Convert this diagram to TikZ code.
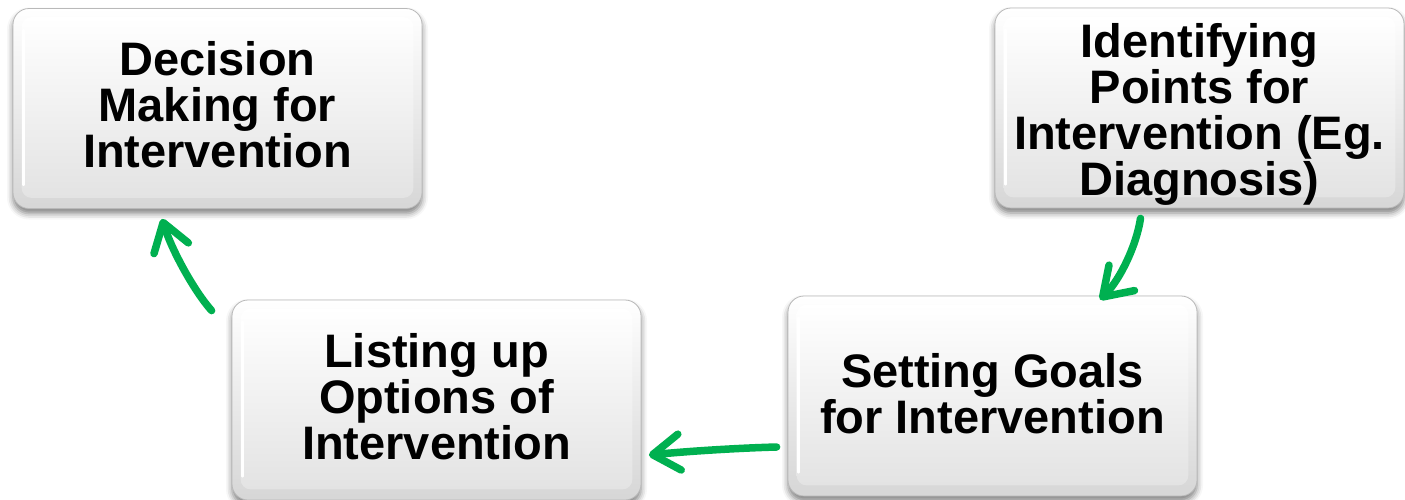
\documentclass[tikz,border=0pt]{standalone}
\usepackage{fontspec}
\setmainfont{Liberation Sans}
\usetikzlibrary{arrows.meta,shadows.blur}
\definecolor{arrgreen}{RGB}{0,176,80}
\begin{document}
\begin{tikzpicture}[x=1pt,y=-1pt,
  keyouter/.style={rectangle, rounded corners=16pt, minimum width=409pt, minimum height=200pt,
    inner sep=0pt, draw=gray!55, line width=0.8pt, top color=white, bottom color=gray!32,
    blur shadow={shadow xshift=0pt, shadow yshift=-5pt, shadow blur radius=6pt, shadow opacity=50}},
  keyinner/.style={rounded corners=10pt, top color=white, bottom color=gray!22},
  keyhilite/.style={draw=white, line width=2.5pt, line cap=round},
  keytext/.style={align=center, inner sep=0pt, text=black,
    font=\bfseries\fontsize{47}{46}\selectfont},
  flow/.style={draw=arrgreen, line width=7.5pt, line cap=round,
    -{Straight Barb[length=27pt,width=36pt,round]}}]
\useasboundingbox (0,0) rectangle (1405,499);

% key-cap panels
\foreach \nm/\cx/\cy in {dec/217.5/108.5, ident/1199.5/108, setg/992.5/396, list/436.5/400}{
  \node[keyouter] (\nm) at (\cx,\cy) {};
  \path[keyinner] ([shift={(9,9)}]\nm.north west) rectangle ([shift={(-9,-11)}]\nm.south east);
  \draw[keyhilite] ([shift={(11,22)}]\nm.north west) -- ([shift={(11,-24)}]\nm.south west);
}

% labels
\node[keytext] (dec-t) at ([yshift=4pt]dec) {Decision\\Making for\\Intervention};
\node[keytext] (ident-t) at ([yshift=-6pt]ident) {Identifying\\Points for\\Intervention (Eg.\\Diagnosis)};
\node[keytext] (setg-t) at ([yshift=2pt]setg) {Setting Goals\\for Intervention};
\node[keytext] (list-t) at ([yshift=3pt]list) {Listing up\\Options of\\Intervention};

% cycle arrows
\draw[flow] ([shift={(-59,10)}]ident.south) .. controls ([shift={(-63,37)}]ident.south)
  and ([shift={(127.5,-16)}]setg.north) .. ([shift={(107.5,4)}]setg.north);
\draw[flow] ([shift={(-11,51)}]setg.west) .. controls ([shift={(-48,52)}]setg.west)
  and ([shift={(49.5,51)}]list.east) .. ([shift={(7.5,55)}]list.east);
\draw[flow] ([shift={(-20,11)}]list.north west) .. controls ([shift={(-37,-8)}]list.north west)
  and ([shift={(-45.5,42)}]dec.south) .. ([shift={(-55.5,10)}]dec.south);
\end{tikzpicture}
\end{document}
